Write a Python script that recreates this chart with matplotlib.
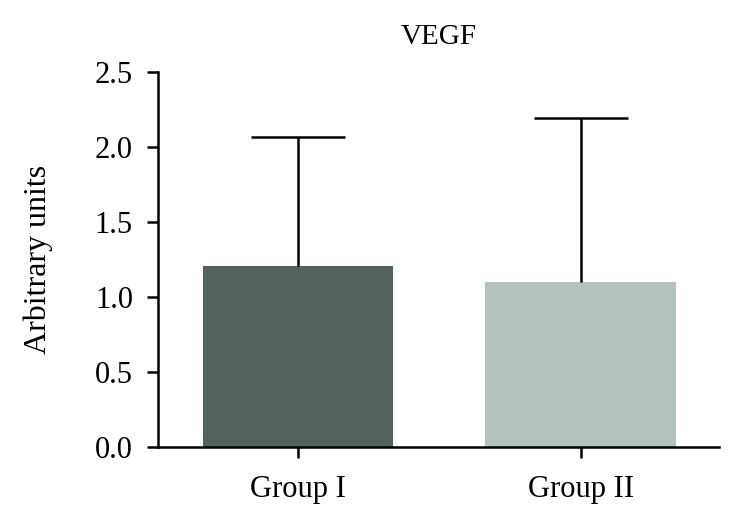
import matplotlib.pyplot as plt
import numpy as np

plt.rcParams['font.family'] = ['Liberation Serif', 'DejaVu Serif']

groups = ["Group I", "Group II"]
means = [1.21, 1.10]
sd_upper = [0.857, 1.093]
colors = ["#54625f", "#b3c1bf"]
yticks = [0.0, 0.5, 1.0, 1.5, 2.0, 2.5]

fig = plt.figure(figsize=(7.41, 5.25), dpi=100)
ax = fig.add_axes([0.2132, 0.148, 0.757, 0.7149])

x = np.arange(len(groups))
ax.bar(x, means, width=0.675, color=colors, zorder=2)
_, caps, _ = ax.errorbar(x, means, yerr=[np.zeros(len(means)), sd_upper], fmt="none",
                         ecolor="black", elinewidth=1.8, capsize=33.5, capthick=1.8, zorder=3)
caps[0].set_visible(False)  # only upper whisker

ax.set_xlim(-0.495, 1.488)
ax.set_ylim(0, 2.5)
ax.set_xticks(x)
ax.set_xticklabels(groups)
ax.set_yticks(yticks)
ax.set_yticklabels([f"{v:.1f}" for v in yticks])

for s in ["top", "right"]:
    ax.spines[s].set_visible(False)
for s in ["left", "bottom"]:
    ax.spines[s].set_linewidth(1.8)
ax.tick_params(axis="both", width=1.8, length=8, labelsize=22, pad=10)
ax.tick_params(axis="x", pad=12)

ax.set_ylabel("Arbitrary units", fontsize=23, labelpad=30)
ax.set_title("VEGF", fontsize=21, pad=20)

fig.savefig("out.png", dpi=100)
